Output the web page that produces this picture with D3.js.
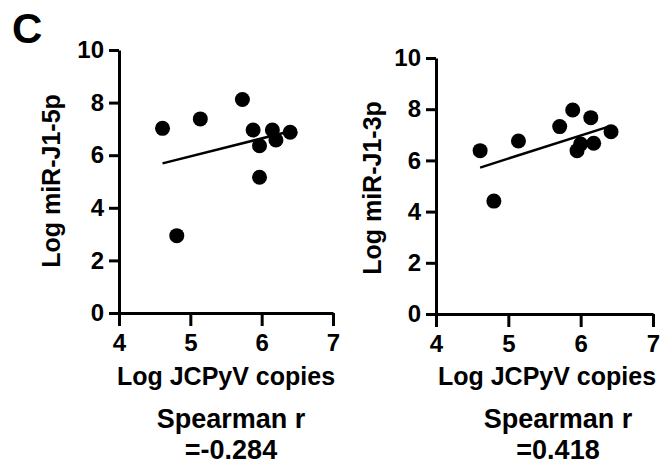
<!DOCTYPE html>
<html>
<head>
<meta charset="UTF-8">
<title>JCPyV vs miR-J1</title>
<script src="https://d3js.org/d3.v7.min.js"></script>
<style>
  body { margin: 0; background: #fff; }
  svg { font-family: "Liberation Sans", Arial, sans-serif; font-weight: bold; }
</style>
</head>
<body>
<svg id="chart" width="660" height="465"></svg>
<script>
// tick values
var xTicks = [4, 5, 6, 7];
var yTicks = [0, 2, 4, 6, 8, 10];

// left panel: miR-J1-5p
var x5p = [4.61, 4.81, 5.14, 5.73, 5.88, 5.97, 5.97, 6.15, 6.20, 6.40];
var y5p = [7.02, 2.94, 7.38, 8.12, 6.96, 6.36, 5.16, 6.96, 6.58, 6.87];
var fit5pX = [4.61, 6.40];
var fit5pY = [5.69, 6.91];

// right panel: miR-J1-3p
var x3p = [4.61, 4.80, 5.14, 5.71, 5.89, 6.14, 6.00, 5.95, 6.18, 6.42];
var y3p = [6.38, 4.41, 6.76, 7.32, 7.97, 7.67, 6.64, 6.38, 6.67, 7.12];
var fit3pX = [4.61, 6.42];
var fit3pY = [5.72, 7.35];

var yTitles = ["Log miR-J1-5p", "Log miR-J1-3p"];
var xTitle = "Log JCPyV copies";
var statLines = [["Spearman r", "=-0.284"], ["Spearman r", "=0.418"]];

var svg = d3.select("#chart");

svg.append("text")
    .attr("x", 12).attr("y", 43)
    .style("font-size", "42px")
    .text("C");

var panels = [
    { xs: x5p, ys: y5p, fx: fit5pX, fy: fit5pY, left: 119, right: 333, top: 50, bottom: 313,
      ylab: [60, 181], xlab: [226, 385], stat: [231, 428] },
    { xs: x3p, ys: y3p, fx: fit3pX, fy: fit3pY, left: 436, right: 653, top: 58, bottom: 314,
      ylab: [381, 188], xlab: [547, 385], stat: [558, 428] }
];

panels.forEach(function (p, k) {
    var x = d3.scaleLinear().domain([4, 7]).range([p.left, p.right]);
    var y = d3.scaleLinear().domain([0, 10]).range([p.bottom, p.top]);
    var g = svg.append("g");

    var ax = g.append("g")
        .attr("transform", "translate(0," + p.bottom + ")")
        .call(d3.axisBottom(x).tickValues(xTicks).tickFormat(d3.format("d"))
            .tickSize(13).tickPadding(8).tickSizeOuter(0));
    var ay = g.append("g")
        .attr("transform", "translate(" + p.left + ",0)")
        .call(d3.axisLeft(y).tickValues(yTicks).tickFormat(d3.format("d"))
            .tickSize(10).tickPadding(5).tickSizeOuter(0));

    [ax, ay].forEach(function (a) {
        a.attr("font-family", null).attr("font-size", null);
        a.select(".domain").attr("stroke", "#000").attr("stroke-width", 3);
        a.selectAll(".tick line").attr("stroke", "#000").attr("stroke-width", 3);
        a.selectAll(".tick text").attr("fill", "#000").style("font-size", "24px");
    });

    var pts = p.xs.map(function (d, i) { return [d, p.ys[i]]; });
    g.selectAll("circle").data(pts).enter().append("circle")
        .attr("cx", function (d) { return x(d[0]); })
        .attr("cy", function (d) { return y(d[1]); })
        .attr("r", 7.5)
        .attr("fill", "#000");

    g.append("line")
        .attr("x1", x(p.fx[0])).attr("y1", y(p.fy[0]))
        .attr("x2", x(p.fx[1])).attr("y2", y(p.fy[1]))
        .attr("stroke", "#000").attr("stroke-width", 2.5);

    g.append("text")
        .attr("transform", "translate(" + p.ylab[0] + "," + p.ylab[1] + ") rotate(-90)")
        .attr("text-anchor", "middle")
        .style("font-size", "25px")
        .text(yTitles[k]);

    g.append("text")
        .attr("x", p.xlab[0]).attr("y", p.xlab[1])
        .attr("text-anchor", "middle")
        .style("font-size", "25px")
        .text(xTitle);

    g.selectAll(".stat").data(statLines[k]).enter().append("text")
        .attr("class", "stat")
        .attr("x", p.stat[0])
        .attr("y", function (d, i) { return p.stat[1] + i * 31; })
        .attr("text-anchor", "middle")
        .style("font-size", "27px")
        .text(function (d) { return d; });
});
</script>
</body>
</html>
